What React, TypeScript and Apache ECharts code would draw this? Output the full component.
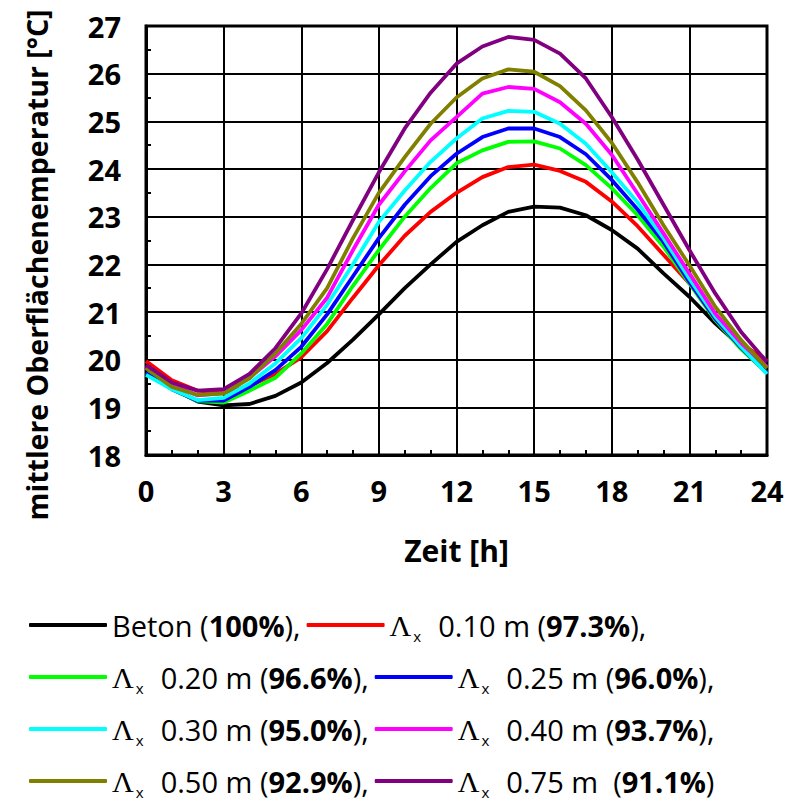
import React, { useEffect, useRef } from "react";
import * as echarts from "echarts";

// Hour of day
const hours = [0, 1, 2, 3, 4, 5, 6, 7, 8, 9, 10, 11, 12, 13, 14, 15, 16, 17, 18, 19, 20, 21, 22, 23, 24];

// Mean surface temperature [°C] per hour
const beton = [19.85, 19.4, 19.12, 19.04, 19.07, 19.24, 19.52, 19.93, 20.42, 20.95, 21.5, 22.0, 22.47, 22.82, 23.1, 23.21, 23.19, 23.03, 22.72, 22.33, 21.81, 21.32, 20.76, 20.27, 19.85];
const lambda010 = [19.97, 19.57, 19.35, 19.3, 19.45, 19.7, 20.05, 20.6, 21.3, 21.98, 22.6, 23.1, 23.5, 23.83, 24.04, 24.09, 23.96, 23.73, 23.32, 22.8, 22.2, 21.6, 20.93, 20.34, 19.97];
const lambda020 = [19.72, 19.38, 19.13, 19.1, 19.35, 19.62, 20.13, 20.75, 21.55, 22.3, 23.0, 23.6, 24.12, 24.39, 24.57, 24.58, 24.43, 24.08, 23.6, 23.03, 22.37, 21.6, 20.83, 20.22, 19.72];
const lambda025 = [19.72, 19.38, 19.14, 19.14, 19.43, 19.78, 20.27, 20.95, 21.75, 22.55, 23.25, 23.85, 24.32, 24.67, 24.85, 24.85, 24.67, 24.31, 23.77, 23.15, 22.47, 21.63, 20.86, 20.25, 19.72];
const lambda030 = [19.68, 19.38, 19.15, 19.2, 19.5, 19.92, 20.45, 21.15, 22.0, 22.89, 23.55, 24.15, 24.64, 25.06, 25.22, 25.2, 24.95, 24.53, 23.93, 23.3, 22.55, 21.7, 20.9, 20.27, 19.7];
const lambda040 = [19.85, 19.48, 19.25, 19.3, 19.62, 20.07, 20.62, 21.3, 22.3, 23.25, 23.95, 24.6, 25.09, 25.58, 25.72, 25.68, 25.4, 24.95, 24.3, 23.48, 22.65, 21.81, 20.97, 20.35, 19.85];
const lambda050 = [19.82, 19.43, 19.26, 19.29, 19.61, 20.13, 20.75, 21.5, 22.55, 23.5, 24.25, 24.95, 25.5, 25.9, 26.09, 26.04, 25.74, 25.23, 24.55, 23.72, 22.82, 21.98, 21.11, 20.41, 19.82];
const lambda075 = [19.89, 19.52, 19.35, 19.38, 19.7, 20.24, 20.97, 21.9, 22.93, 23.93, 24.85, 25.6, 26.21, 26.57, 26.77, 26.71, 26.42, 25.9, 25.09, 24.2, 23.25, 22.3, 21.39, 20.58, 19.95];

const seriesNames = ["Beton", "Λ 0.10", "Λ 0.20", "Λ 0.25", "Λ 0.30", "Λ 0.40", "Λ 0.50", "Λ 0.75"];
const seriesValues = [beton, lambda010, lambda020, lambda025, lambda030, lambda040, lambda050, lambda075];
const seriesColors = ["#000000", "#ff0000", "#00ff00", "#0000ff", "#00ffff", "#ff00ff", "#808000", "#800080"];
const thickness = ["", "0.10 m", "0.20 m", "0.25 m", "0.30 m", "0.40 m", "0.50 m", "0.75 m "];
const shares = ["100%", "97.3%", "96.6%", "96.0%", "95.0%", "93.7%", "92.9%", "91.1%"];

const yTitle = "mittlere Oberflächenemperatur [°C]";
const xTitle = "Zeit [h]";

const FONT = "'Open Sans', 'Noto Sans', sans-serif";
const SERIF = "'Liberation Serif', 'DejaVu Serif', serif";

function legendText(name: string): string {
  const i = seriesNames.indexOf(name);
  const tail = i === seriesNames.length - 1 ? ")" : "),";
  if (i === 0) return `Beton ({b|${shares[0]}}${tail}`;
  return `{l|Λ}{s|x}  ${thickness[i]} ({b|${shares[i]}}${tail}`;
}

export default function App() {
  const ref = useRef<HTMLDivElement>(null);

  useEffect(() => {
    if (!ref.current) return;
    const chart = echarts.init(ref.current, undefined, { renderer: "svg" });

    const series = seriesNames.map((name, i) => ({
      name,
      type: "line",
      data: hours.map((h, k) => [h, seriesValues[i][k]]),
      showSymbol: false,
      symbol: "none",
      lineStyle: { color: seriesColors[i], width: 3.8 },
      itemStyle: { color: seriesColors[i] },
      z: 3,
    }));

    chart.setOption({
      animation: false,
      backgroundColor: "#ffffff",
      grid: {
        left: 146,
        right: 32,
        top: 26,
        height: 429,
        show: true,
        borderColor: "#000",
        borderWidth: 3,
        containLabel: false,
        outerBoundsMode: "none",
      },
      xAxis: {
        type: "value",
        min: 0,
        max: 24,
        interval: 3,
        name: xTitle,
        nameLocation: "middle",
        nameGap: 80,
        nameTextStyle: { fontFamily: FONT, fontWeight: "bold", fontSize: 30, color: "#000" },
        axisLine: { show: true, lineStyle: { color: "#000", width: 3 } },
        axisTick: { show: true, inside: true, length: 5, lineStyle: { color: "#000", width: 2 } },
        minorTick: { show: true, splitNumber: 3, length: 5, lineStyle: { color: "#000", width: 2 } },
        splitLine: { show: true, lineStyle: { color: "#000", width: 2 } },
        axisLabel: { fontFamily: FONT, fontWeight: "bold", fontSize: 29, color: "#000", margin: 21 },
      },
      yAxis: {
        type: "value",
        min: 18,
        max: 27,
        interval: 1,
        axisLine: { show: true, lineStyle: { color: "#000", width: 3 } },
        axisTick: { show: true, inside: true, length: 5, lineStyle: { color: "#000", width: 2 } },
        minorTick: { show: true, splitNumber: 2, length: 5, lineStyle: { color: "#000", width: 2 } },
        splitLine: { show: true, lineStyle: { color: "#000", width: 2 } },
        axisLabel: { fontFamily: FONT, fontWeight: "bold", fontSize: 29, color: "#000", margin: 25 },
      },
      graphic: [
        {
          type: "text",
          x: 37,
          y: 265,
          rotation: Math.PI / 2,
          style: {
            text: yTitle,
            fontFamily: FONT,
            fontWeight: "bold",
            fontSize: 28.5,
            fill: "#000",
            align: "center",
            verticalAlign: "middle",
          },
        },
      ],
      legend: {
        show: true,
        orient: "horizontal",
        left: 24,
        top: 597,
        width: 775,
        itemWidth: 78,
        itemHeight: 4,
        itemGap: 6,
        icon: "roundRect",
        data: seriesNames,
        formatter: legendText,
        textStyle: {
          fontFamily: FONT,
          fontSize: 29,
          color: "#000",
          lineHeight: 46,
          rich: {
            b: { fontFamily: FONT, fontSize: 29, fontWeight: "bold", color: "#000", lineHeight: 46 },
            l: { fontFamily: SERIF, fontSize: 30, color: "#000", lineHeight: 46 },
            s: { fontFamily: FONT, fontSize: 15, color: "#000", padding: [22, 2, 0, 2], lineHeight: 46 },
          },
        },
      },
      series,
    });

    return () => chart.dispose();
  }, []);

  return <div ref={ref} style={{ width: 799, height: 802, marginLeft: -8, marginTop: -8 }} />;
}
